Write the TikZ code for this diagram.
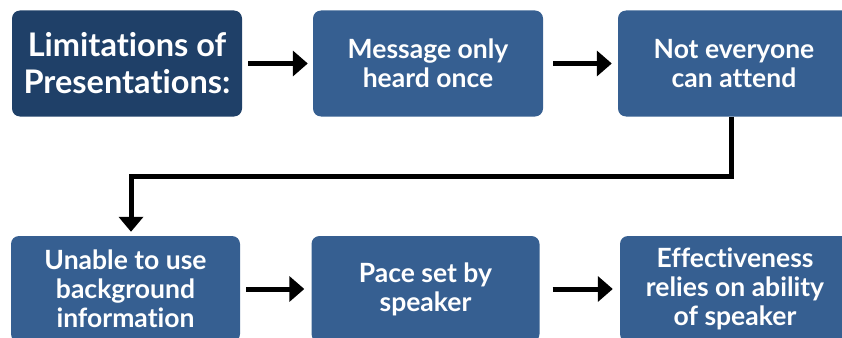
\documentclass[tikz,border=0pt]{standalone}
\usepackage{fontspec}
\setmainfont[Ligatures=NoCommon]{Lato}
\usetikzlibrary{arrows.meta}
\definecolor{darkbox}{HTML}{1F4068}
\definecolor{bluebox}{HTML}{365F91}
\tikzset{
  box/.style={fill=bluebox, rounded corners=8pt, minimum height=106pt, inner sep=0pt,
    text=white, align=center, font=\bfseries\fontsize{26.5}{29}\selectfont},
  titlebox/.style={box, fill=darkbox, font=\bfseries\fontsize{32.5}{37}\selectfont},
  conn/.style={line width=5pt, -{Triangle[width=25pt,length=15pt]}},
}
\begin{document}
\begin{tikzpicture}[x=1pt,y=-1pt]
\useasboundingbox (0,0) rectangle (842,337);
\node[titlebox, minimum width=230pt] (b1) at (127,63.5) {Limitations of\\Presentations:};
\node[box, minimum width=230pt] (b2) at (428,63.5) {Message only\\heard once};
\node[box, minimum width=232pt] (b3) at (734,63.5) {Not everyone\\can attend};
\node[box, minimum width=229pt] (b4) at (125.5,289) {Unable to use\\background\\information};
\node[box, minimum width=228pt] (b5) at (425.5,289) {Pace set by\\speaker};
\node[box, minimum width=230pt] (b6) at (735,289) {Effectiveness\\relies on ability\\of speaker};
\draw[conn, shorten <=6pt, shorten >=5pt] (b1.east) -- (b2.west);
\draw[conn, shorten <=10pt, shorten >=6pt] (b2.east) -- (b3.west);
\draw[conn, shorten <=6pt, shorten >=7pt] (b4.east) -- (b5.west);
\draw[conn, shorten <=13pt, shorten >=7pt] (b5.east) -- (b6.west);
\coordinate (turn) at (131,176);
\draw[line width=5pt, -{Triangle[width=24pt,length=15pt]}, shorten >=4pt]
  ([xshift=-3pt]b3.south) |- (turn) -- (b4.north -| turn);
\end{tikzpicture}
\end{document}
